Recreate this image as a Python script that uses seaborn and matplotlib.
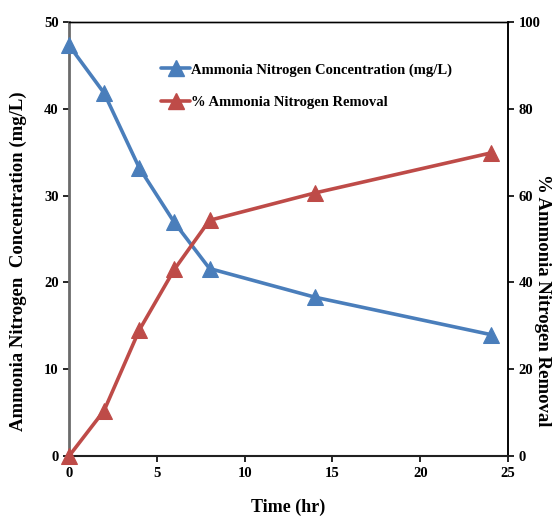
import numpy as np
import pandas as pd
import seaborn as sns
import matplotlib.pyplot as plt
from matplotlib.lines import Line2D

time_hr = [0, 2, 4, 6, 8, 14, 24]
conc = [47.3, 41.8, 33.2, 26.9, 21.6, 18.3, 14.0]
removal = [0, 10.5, 29.0, 43.0, 54.3, 60.6, 69.8]

conc_label = 'Ammonia Nitrogen Concentration (mg/L)'
rem_label = '% Ammonia Nitrogen Removal'

df = pd.DataFrame({'time': time_hr, 'conc': conc, 'removal': removal})

sns.set_theme(style='ticks')
plt.rcParams['font.family'] = ['Liberation Serif', 'DejaVu Serif']
plt.rcParams['font.weight'] = 'bold'
plt.rcParams['text.color'] = 'black'
plt.rcParams['axes.labelcolor'] = 'black'

blue = '#4A7EBB'
red = '#BE4B48'

fig = plt.figure(figsize=(5.56, 5.19), dpi=100)
ax = fig.add_axes([0.124, 0.121, 0.790, 0.837])
ax2 = ax.twinx()

sns.lineplot(data=df, x='time', y='conc', ax=ax, color=blue, lw=2.6,
             marker='^', markersize=12, markeredgecolor=blue, clip_on=False, zorder=3)
sns.lineplot(data=df, x='time', y='removal', ax=ax2, color=red, lw=2.6,
             marker='^', markersize=12, markeredgecolor=red, clip_on=False, zorder=3)

ax.set_xlim(0, 25)
ax.set_ylim(0, 50)
ax2.set_ylim(0, 100)
ax.set_xticks(range(0, 26, 5))
ax.set_yticks(range(0, 51, 10))
ax2.set_yticks(range(0, 101, 20))

ax.set_xlabel('Time (hr)', fontsize=13, fontweight='bold', labelpad=14)
ax.set_ylabel('Ammonia Nitrogen  Concentration (mg/L)', fontsize=13.5,
              fontweight='bold')
ax.yaxis.set_label_coords(-0.095, 0.45)
ax2.set_ylabel(rem_label, fontsize=13.5, fontweight='bold', rotation=270)
ax2.yaxis.set_label_coords(1.098, 0.36)

for a in (ax, ax2):
    a.tick_params(labelsize=10.5, length=4, width=1.2, direction='out', colors='black')
    for lab in a.get_xticklabels() + a.get_yticklabels():
        lab.set_fontweight('bold')

ax.spines['left'].set_color('#6b6b6b')
ax.spines['left'].set_linewidth(2)
ax.spines['bottom'].set_linewidth(1.5)
ax.spines['bottom'].set_color('black')
ax.spines['top'].set_visible(True)
ax.spines['top'].set_linewidth(1)
ax2.spines['left'].set_visible(False)
ax2.spines['top'].set_linewidth(1)
ax2.spines['top'].set_color('black')
ax2.spines['right'].set_linewidth(1.2)
ax2.spines['right'].set_color('black')

handles = [Line2D([], [], color=blue, lw=2.6, marker='^', markersize=12),
           Line2D([], [], color=red, lw=2.6, marker='^', markersize=12)]
ax2.legend(handles, [conc_label, rem_label], loc='upper left',
           bbox_to_anchor=(0.18, 0.935), frameon=False, fontsize=10.5,
           handlelength=2.0, handletextpad=0.05, labelspacing=1.3)

fig.savefig('out.png', dpi=100)
